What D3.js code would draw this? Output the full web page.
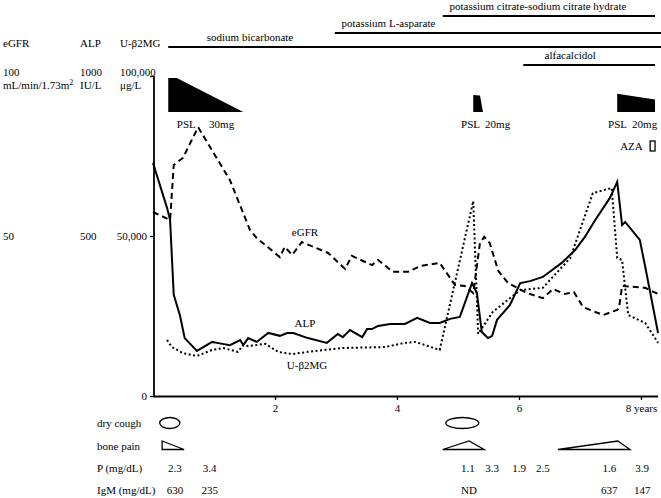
<!DOCTYPE html>
<html>
<head>
  <title>Clinical course</title>
  <script src="https://d3js.org/d3.v7.min.js"></script>
  <style>
    body { margin: 0; background: #fff; }
    svg text { font-family: "Liberation Serif", "Times New Roman", serif; font-size: 11px; fill: #000; }
  </style>
</head>
<body>
  <div id="chart"></div>

  <script>
    // years since onset, values as % of the axis maximum (100 / 1000 / 100,000)
    var egfrYears = [0, 0.28, 0.34, 0.49, 0.74, 1.26, 1.59, 1.70, 2.08, 2.16, 2.28, 2.44, 2.87, 3.15, 3.26, 3.59, 3.69, 3.93, 4.18, 4.38, 4.70, 4.95, 5.11, 5.25, 5.36, 5.43, 5.52, 5.66, 5.82, 6.13, 6.39, 6.56, 6.75, 6.90, 7.05, 7.38, 7.61, 7.64, 7.69, 8.07, 8.31];
    var egfrValues = [57.5, 55, 72.2, 74.4, 84, 67.5, 51.9, 49.4, 43.4, 46.6, 44.1, 48.1, 44.7, 39.7, 43.8, 40.9, 42.5, 38.8, 38.8, 40.6, 41.6, 34.7, 34.4, 32.2, 47.8, 49.7, 47.8, 39.1, 35.3, 32.2, 30.6, 33.4, 31.9, 32.5, 27.8, 25.3, 26.9, 27.5, 34.4, 33.8, 31.6];

    var alpYears = [0, 0.23, 0.28, 0.34, 0.44, 0.52, 0.72, 0.97, 1.05, 1.26, 1.43, 1.48, 1.56, 1.70, 1.89, 2.08, 2.20, 2.30, 2.54, 2.85, 3.03, 3.11, 3.23, 3.43, 3.51, 3.59, 3.69, 3.89, 4.13, 4.33, 4.54, 4.70, 4.87, 5.03, 5.23, 5.31, 5.39, 5.49, 5.56, 5.64, 5.85, 6.02, 6.18, 6.39, 6.70, 6.92, 7.08, 7.25, 7.49, 7.61, 7.69, 7.74, 7.98, 8.07, 8.28];
    var alpValues = [72.8, 58.8, 55, 31.6, 25.3, 18.1, 14.1, 16.9, 16.6, 15.9, 17.5, 15.9, 18.1, 16.9, 19.7, 18.8, 19.7, 19.7, 18.1, 16.6, 19.4, 18.4, 20.6, 18.4, 20.9, 20.9, 21.9, 22.5, 22.5, 24.4, 22.8, 22.8, 24.1, 24.7, 35.3, 32.2, 20, 18.1, 18.8, 23.8, 28.4, 35.3, 35.9, 37.2, 41.6, 45.6, 49.7, 55, 61.9, 66.9, 53.4, 54.4, 48.8, 40.3, 19.7];

    var b2mgYears = [0.23, 0.31, 0.49, 0.72, 0.97, 1.15, 1.39, 1.48, 1.56, 1.84, 2.05, 2.28, 2.54, 3.10, 3.80, 4.13, 4.30, 4.70, 5.25, 5.33, 5.57, 6.02, 6.39, 6.84, 7.21, 7.52, 7.61, 7.69, 7.79, 8.07, 8.28];
    var b2mgValues = [17.5, 15.3, 13.4, 12.5, 14.4, 15, 13.8, 15.9, 15.6, 16.3, 13.8, 13.1, 13.8, 15, 15.3, 16.6, 16.9, 14.4, 60.9, 19.4, 26.3, 33.1, 33.8, 43.1, 63.4, 65, 43.1, 42.5, 25.3, 22.8, 16.6];

    // medications (start, end in years)
    var drugNames = ["potassium citrate-sodium citrate hydrate", "potassium L-asparate", "sodium bicarbonate", "alfacalcidol"];
    var drugStart = [4.75, 2.98, 0.25, 6.07];
    var drugEnd = [8.23, 8.33, 8.33, 8.23];
    var drugLabelAt = [6.31, 3.86, 1.59, 6.84];

    // prednisolone dose profiles: [year, mg]
    var pslDoses = [
      [[0.25, 30], [0.39, 30], [1.48, 0]],
      [[5.25, 15], [5.36, 14.5], [5.41, 0]],
      [[7.61, 16], [8.23, 11], [8.23, 0]]
    ];
    var pslLabels = ["PSL     30mg", "PSL  20mg", "PSL  20mg"];
    var pslLabelAt = [0.39, 5.05, 7.46];

    var azaStart = 8.15, azaEnd = 8.23;

    // symptoms
    var coughStart = [0.11, 4.80];
    var coughEnd = [0.44, 5.34];
    var painStart = [0.15, 4.75, 6.64];
    var painPeak = [0.15, 5.18, 7.62];
    var painEnd = [0.51, 5.43, 7.82];

    // lab table
    var pYears = [0.36, 0.93, 5.16, 5.56, 6.0, 6.39, 7.48, 8.02];
    var pLabels = ["2.3", "3.4", "1.1", "3.3", "1.9", "2.5", "1.6", "3.9"];
    var igmYears = [0.36, 0.93, 5.18, 7.48, 8.02];
    var igmLabels = ["630", "235", "ND", "637", "147"];

    var xTicks = [2, 4, 6, 8];

    var svg = d3.select("#chart")
                .append("svg")
                .attr("width", 661)
                .attr("height", 498);

    var xScale = d3.scaleLinear().domain([0, 8]).range([153, 641]);
    var yScale = d3.scaleLinear().domain([0, 100]).range([396, 76]);
    var doseScale = d3.scaleLinear().domain([0, 30]).range([112, 78]);

    // header labels for the three axes
    var headers = [
      { x: 3, col: ["eGFR", "100", "mL/min/1.73m", "50"] },
      { x: 80, col: ["ALP", "1000", "IU/L", "500"] },
      { x: 120, col: ["U-\u03B22MG", "100,000", "\u03BCg/L", null] }
    ];
    headers.forEach(function (h) {
      svg.append("text").attr("x", h.x).attr("y", 47).text(h.col[0]);
      svg.append("text").attr("x", h.x).attr("y", 76).text(h.col[1]);
      var t = svg.append("text").attr("x", h.x).attr("y", 89).text(h.col[2]);
      if (h.col[2] === "mL/min/1.73m") {
        t.append("tspan").attr("dy", -4).style("font-size", "8px").text("2");
      }
      if (h.col[3]) {
        svg.append("text").attr("x", h.x).attr("y", 240).text(h.col[3]);
      }
    });

    // medication bars
    var drugRowY = [16, 33, 47, 65];
    drugNames.forEach(function (name, i) {
      svg.append("line")
         .attr("x1", xScale(drugStart[i])).attr("x2", xScale(drugEnd[i]))
         .attr("y1", drugRowY[i]).attr("y2", drugRowY[i])
         .attr("stroke", "#000").attr("stroke-width", 2);
      svg.append("text")
         .attr("x", xScale(drugLabelAt[i]))
         .attr("y", drugRowY[i] - 6)
         .style("text-anchor", "middle")
         .text(name);
    });

    // PSL dose shapes
    pslDoses.forEach(function (pts, i) {
      var poly = pts.map(p => [xScale(p[0]), doseScale(p[1])]);
      poly.push([xScale(pts[pts.length - 1][0]), doseScale(0)]);
      poly.push([xScale(pts[0][0]), doseScale(0)]);
      svg.append("polygon")
         .attr("points", poly.map(p => p.join(",")).join(" "))
         .attr("fill", "#000");
      svg.append("text")
         .attr("x", xScale(pslLabelAt[i]))
         .attr("y", 128)
         .style("white-space", "pre")
         .text(pslLabels[i]);
    });

    // AZA
    svg.append("text").attr("x", xScale(azaStart) - 30).attr("y", 150).text("AZA");
    svg.append("rect")
       .attr("x", xScale(azaStart)).attr("y", 141)
       .attr("width", xScale(azaEnd) - xScale(azaStart)).attr("height", 10)
       .attr("fill", "none").attr("stroke", "#000").attr("stroke-width", 1.3);

    // axes
    var xAxis = svg.append("g")
       .attr("transform", "translate(0, 396)")
       .call(d3.axisBottom(xScale).tickValues(xTicks).tickSize(4).tickPadding(4)
               .tickFormat(d => d === 8 ? "8 years" : d));
    xAxis.select(".domain").remove();
    xAxis.selectAll("text").style("font-size", "11px").style("font-family", null);
    xAxis.selectAll("line").attr("stroke-width", 1.3);
    svg.append("line")
       .attr("x1", 153).attr("x2", xScale(8.28))
       .attr("y1", 396.5).attr("y2", 396.5)
       .attr("stroke", "#000").attr("stroke-width", 1.8);

    var yAxis = svg.append("g")
       .attr("transform", "translate(154, 0)")
       .call(d3.axisLeft(yScale).tickValues([0, 50, 100]).tickSize(4).tickPadding(3)
               .tickFormat(d => d === 0 ? "0" : d === 50 ? "50,000" : ""));
    yAxis.select(".domain").remove();
    yAxis.selectAll("text").style("font-size", "11px").style("font-family", null);
    yAxis.selectAll("line").attr("stroke-width", 1.3);
    svg.append("line")
       .attr("x1", 154).attr("x2", 154)
       .attr("y1", yScale(100)).attr("y2", 397)
       .attr("stroke", "#000").attr("stroke-width", 1.8);

    // series
    function drawSeries(xs, vs, dash) {
      var pts = xs.map((t, i) => [t, vs[i]]);
      var line = d3.line().x(d => xScale(d[0])).y(d => yScale(d[1]));
      svg.append("path")
         .datum(pts)
         .attr("fill", "none")
         .attr("stroke", "#000")
         .attr("stroke-width", 2)
         .attr("stroke-dasharray", dash)
         .attr("d", line);
    }
    drawSeries(egfrYears, egfrValues, "6,4");
    drawSeries(alpYears, alpValues, null);
    drawSeries(b2mgYears, b2mgValues, "2,2.5");

    svg.append("text").attr("x", 305).attr("y", 236).style("text-anchor", "middle").text("eGFR");
    svg.append("text").attr("x", 305).attr("y", 327).style("text-anchor", "middle").text("ALP");
    svg.append("text").attr("x", 307).attr("y", 369).style("text-anchor", "middle").text("U-\u03B22MG");

    // symptom rows
    var rowLabels = ["dry cough", "bone pain", "P (mg/dL)", "IgM (mg/dL)"];
    var rowY = [427, 450, 472, 494];
    rowLabels.forEach(function (r, i) {
      svg.append("text").attr("x", 97).attr("y", rowY[i]).text(r);
    });

    coughStart.forEach(function (s, i) {
      var x0 = xScale(s), x1 = xScale(coughEnd[i]);
      svg.append("ellipse")
         .attr("cx", (x0 + x1) / 2).attr("cy", 423)
         .attr("rx", (x1 - x0) / 2).attr("ry", 5.5)
         .attr("fill", "none").attr("stroke", "#000").attr("stroke-width", 1.3);
    });

    painStart.forEach(function (s, i) {
      var pts = [[xScale(s), 449.5], [xScale(painPeak[i]), 441], [xScale(painEnd[i]), 449.5]];
      if (painPeak[i] === s) pts = [[xScale(s), 441], [xScale(painEnd[i]), 449.5], [xScale(s), 449.5]];
      svg.append("polygon")
         .attr("points", pts.map(p => p.join(",")).join(" "))
         .attr("fill", "none").attr("stroke", "#000").attr("stroke-width", 1.3);
    });

    pYears.forEach(function (t, i) {
      svg.append("text").attr("x", xScale(t)).attr("y", rowY[2])
         .style("text-anchor", "middle").text(pLabels[i]);
    });
    igmYears.forEach(function (t, i) {
      svg.append("text").attr("x", xScale(t)).attr("y", rowY[3])
         .style("text-anchor", "middle").text(igmLabels[i]);
    });
  </script>
</body>
</html>
